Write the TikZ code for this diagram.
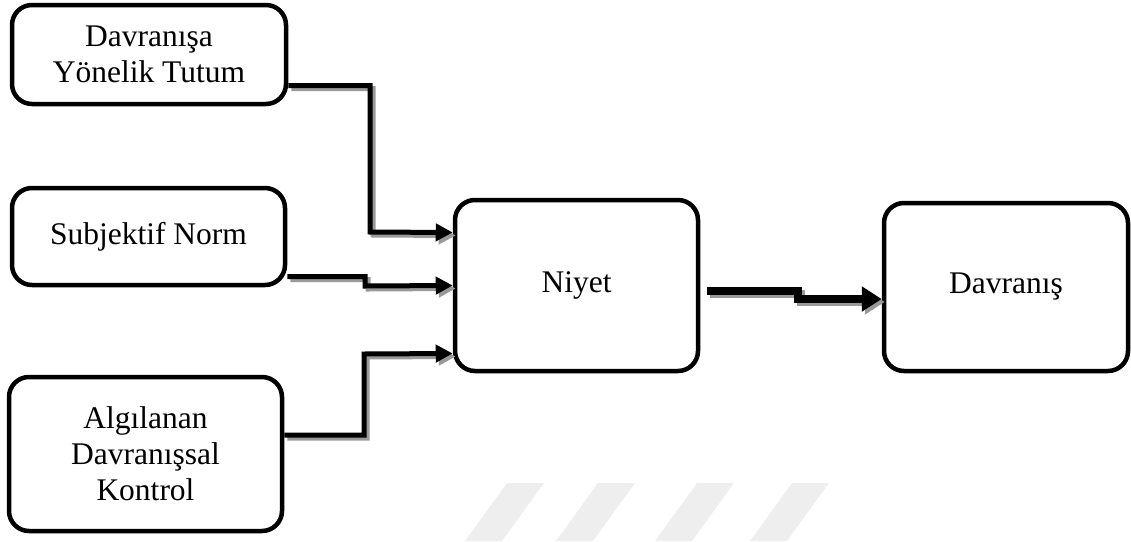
\documentclass[tikz,border=0pt]{standalone}
\usepackage{fontspec}
\setmainfont{Liberation Serif}
\usetikzlibrary{arrows.meta}
\definecolor{wmgray}{RGB}{238,238,238}
\tikzset{box/.style={draw, line width=4.5pt, rounded corners=20pt, align=center, inner sep=0pt, font=\fontsize{31.5}{36}\selectfont},
  link/.style={line width=5pt, -{Triangle[length=17pt,width=17pt]}},
  big link/.style={line width=7.5pt, -{Triangle[length=20pt,width=24pt]}},
  link shadow/.style={draw=black!40, transform canvas={shift={(3pt,-3pt)}}},}

\begin{document}
\begin{tikzpicture}[x=1pt, y=-1pt]
        \useasboundingbox (0,0) rectangle (1131,541);
        % faint stripes at the bottom
        \foreach \x in {507,598,697,792}
            \fill[wmgray] (\x,483) -- ++(37,0) -- ++(-42,58) -- ++(-37,0) -- cycle;
        % Nodes
        \node[box, minimum width=274pt, minimum height=99pt] (tutum) at (149,54.5) {Davranışa\\Yönelik Tutum};
        \node[box, minimum width=273pt, minimum height=97pt] (norm) at (148.5,236.5) {Subjektif Norm};
        \node[box, minimum width=273pt, minimum height=154pt] (kontrol) at (145.5,454) {Algılanan\\Davranışsal\\Kontrol};
        \node[box, minimum width=243pt, minimum height=171pt] (niyet) at (576.5,285.5) {Niyet};
        \node[box, minimum width=244pt, minimum height=168pt] (davranis) at (1006,287) {Davranış};
        % Shadows of the paths
        \draw[link, link shadow] ([yshift=-31pt]tutum.east) -| (370,232) -- ([yshift=53pt]niyet.west);
        \draw[link, link shadow] ([yshift=-40pt]norm.east) -| (365,286) -- (niyet.west);
        \draw[link, link shadow] ([yshift=19pt]kontrol.east) -| (364,354) -- ([yshift=-68pt]niyet.west);
        \draw[big link, link shadow] ([xshift=7pt,yshift=-5.5pt]niyet.east) -| (798,299) -- ([yshift=-12pt]davranis.west);
        % Paths
        \draw[link] ([yshift=-31pt]tutum.east) -| (370,232) -- ([yshift=53pt]niyet.west);
        \draw[link] ([yshift=-40pt]norm.east) -| (365,286) -- (niyet.west);
        \draw[link] ([yshift=19pt]kontrol.east) -| (364,354) -- ([yshift=-68pt]niyet.west);
        \draw[big link] ([xshift=7pt,yshift=-5.5pt]niyet.east) -| (798,299) -- ([yshift=-12pt]davranis.west);
    \end{tikzpicture}
\end{document}
